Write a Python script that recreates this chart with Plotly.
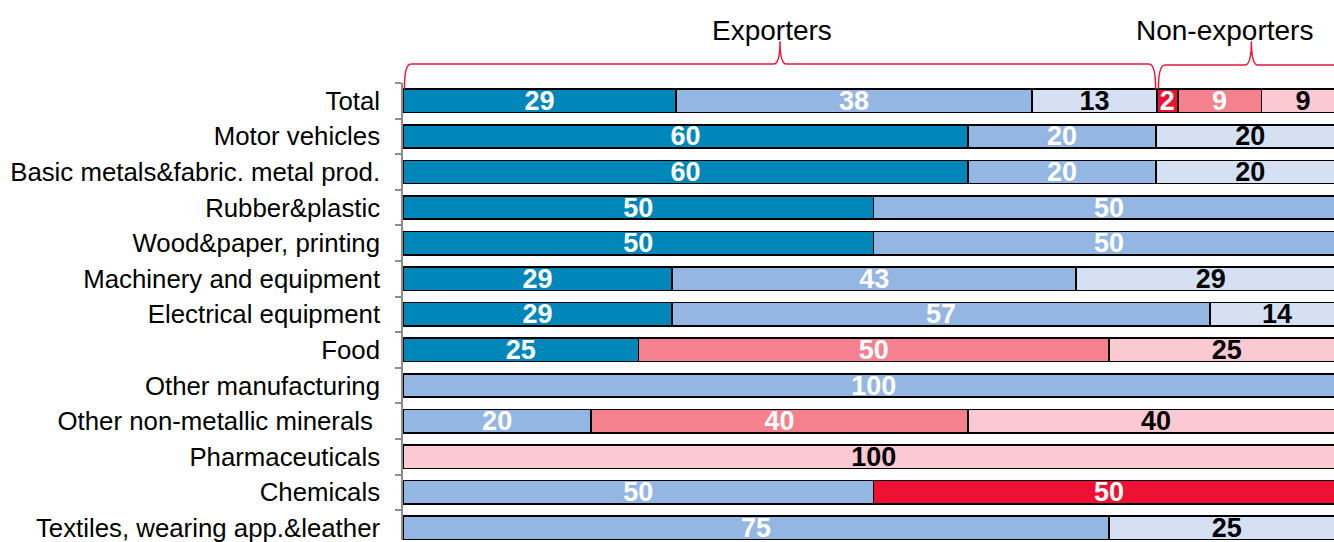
import plotly.graph_objects as go

categories = ["Total", "Motor vehicles", "Basic metals&fabric. metal prod.", "Rubber&plastic",
              "Wood&paper, printing", "Machinery and equipment", "Electrical equipment", "Food",
              "Other manufacturing", "Other non-metallic minerals ", "Pharmaceuticals", "Chemicals",
              "Textiles, wearing app.&leather"]

exp_1 = [29, 60, 60, 50, 50, 28.6, 28.6, 25, 0, 0, 0, 0, 0]
exp_2 = [37.8, 20, 20, 50, 50, 42.9, 57.1, 0, 100, 20, 0, 50, 75]
exp_3 = [13.3, 20, 20, 0, 0, 28.6, 14.3, 0, 0, 0, 0, 0, 25]
non_1 = [2.2, 0, 0, 0, 0, 0, 0, 0, 0, 0, 0, 50, 0]
non_2 = [8.9, 0, 0, 0, 0, 0, 0, 50, 0, 40, 0, 0, 0]
non_3 = [8.8, 0, 0, 0, 0, 0, 0, 25, 0, 40, 100, 0, 0]

series = [exp_1, exp_2, exp_3, non_1, non_2, non_3]
names = ["Exporters 1", "Exporters 2", "Exporters 3", "Non-exporters 1", "Non-exporters 2", "Non-exporters 3"]
colors = ["#0087BA", "#94B6E2", "#D5E1F3", "#EE1133", "#F5818F", "#FAC9D1"]
text_colors = ["white", "white", "black", "white", "white", "black"]

W, H = 1334, 542
ML, MT = 403, 83
FONT = "Liberation Sans, Arial, sans-serif"

fig = go.Figure()
for vals, name, col, tcol in zip(series, names, colors, text_colors):
    fig.add_trace(go.Bar(
        y=categories, x=vals, orientation="h", name=name,
        marker=dict(color=col, line=dict(color="black", width=1.6)),
        text=[f"{v:.0f}" if v > 0 else "" for v in vals],
        textposition="inside", insidetextanchor="middle", constraintext="none",
        textangle=0,
        textfont=dict(family=FONT, size=27, color=tcol, weight="bold"),
        hoverinfo="skip",
    ))


def pap(py):
    return (H - py) / (H - MT)


def brace(x0, x1, yb, yl, yp, d=0.7):
    xm = (x0 + x1) / 2
    return (f"M{x0},{pap(yb)} Q{x0},{pap(yl)} {x0 + d},{pap(yl)} "
            f"L{xm - d},{pap(yl)} Q{xm},{pap(yl)} {xm},{pap(yp)} "
            f"Q{xm},{pap(yl)} {xm + d},{pap(yl)} L{x1 - d},{pap(yl)} "
            f"Q{x1},{pap(yl)} {x1},{pap(yb)}")


exp_share = exp_1[0] + exp_2[0] + exp_3[0]
red = "#E8173C"
shapes = [
    dict(type="path", xref="x", yref="paper", path=brace(0.15, exp_share - 0.15, 89, 64, 41),
         line=dict(color=red, width=1.5)),
    dict(type="path", xref="x", yref="paper", path=brace(exp_share + 0.15, 100, 89, 65, 41),
         line=dict(color=red, width=1.5)),
]

annotations = [
    dict(text="Exporters", x=exp_share / 2 - 0.9, y=pap(30), xref="x", yref="paper",
         showarrow=False, xanchor="center", yanchor="middle",
         font=dict(family=FONT, size=28, color="black")),
    dict(text="Non-exporters", x=87.3, y=pap(30), xref="x", yref="paper",
         showarrow=False, xanchor="center", yanchor="middle",
         font=dict(family=FONT, size=28, color="black")),
]

fig.update_layout(
    width=W, height=H,
    margin=dict(l=ML, r=0, t=MT, b=0, pad=0),
    barmode="stack", bargap=0.345,
    showlegend=False,
    plot_bgcolor="white", paper_bgcolor="white",
    shapes=shapes, annotations=annotations,
    xaxis=dict(range=[0, 98.9], showgrid=False, zeroline=False, showticklabels=False,
               showline=False, ticks=""),
    yaxis=dict(type="category", categoryorder="array", categoryarray=categories,
               range=[12.34, -0.5], showgrid=False, zeroline=False,
               showline=True, linecolor="#8C8C8C", linewidth=1.5,
               ticks="outside", tickson="boundaries", ticklen=6, tickcolor="#8C8C8C",
               tickwidth=1.5, ticklabelstandoff=16,
               tickfont=dict(family=FONT, size=25.8, color="black")),
    font=dict(family=FONT),
)

fig.write_html("out.html")
